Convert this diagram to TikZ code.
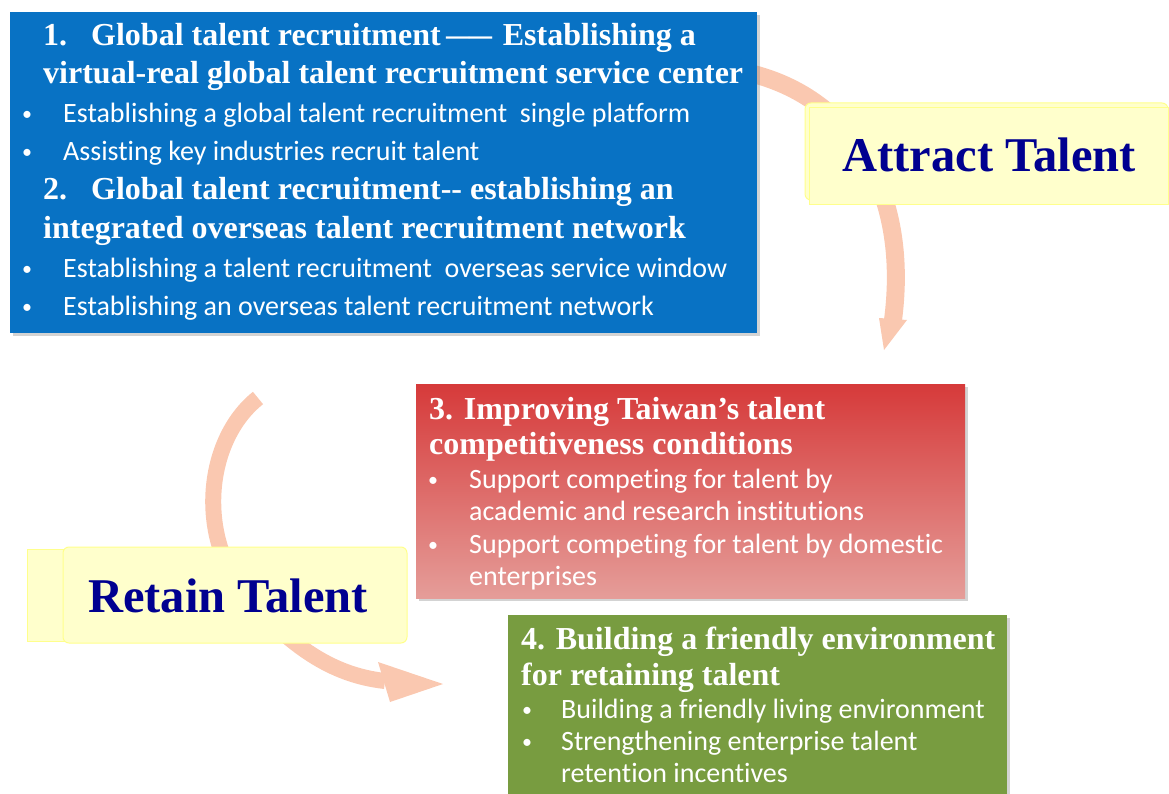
\documentclass[tikz,border=0pt]{standalone}
\usepackage{fontspec}
\newfontfamily\tnrfont{Liberation Serif}
\newfontfamily\calfont[Ligatures=CommonOff]{Carlito}
\usetikzlibrary{shadows}
\definecolor{boxblue}{RGB}{8,114,196}
\definecolor{boxgreen}{RGB}{120,156,64}
\definecolor{redtop}{RGB}{214,58,58}
\definecolor{redbot}{RGB}{229,157,153}
\definecolor{peach}{RGB}{250,200,176}
\definecolor{lightyellow}{RGB}{255,255,204}
\definecolor{yellowline}{RGB}{255,255,140}
\definecolor{navy}{RGB}{0,0,144}
\tikzset{
  ttl/.style={anchor=base west, inner sep=0pt, text=white, font=\tnrfont\bfseries\fontsize{32}{36}\selectfont},
  bul/.style={anchor=base west, inner sep=0pt, text=white, font=\calfont\fontsize{28}{32}\selectfont},
  bdot/.style={anchor=base, inner sep=0pt, text=white, font=\calfont\fontsize{20}{24}\selectfont},
  shad/.style={drop shadow={opacity=0.35, shadow xshift=3pt, shadow yshift=-3pt}},
  ybox/.style={fill=lightyellow, draw=yellowline, line width=1pt},
  bigword/.style={inner sep=0pt, text=navy, font=\tnrfont\bfseries\fontsize{48.5}{56}\selectfont},
  arc/.style={draw=peach, line width=18pt},
  arhead/.style={fill=peach}
}
\begin{document}
\begin{tikzpicture}[x=1pt,y=-1pt]
\useasboundingbox (0,0) rectangle (1169,794);
\clip (0,0) rectangle (1169,794);
% ---- curved arrows
\coordinate (a1s) at (745,72);
\coordinate (a1e) at (893,320);
\coordinate (a1t) at (884,350);
\draw[arc] (a1s) .. controls (850,95) and (910,190) .. (a1e);
\fill[arhead] (879,318) -- (907,320) -- (a1t) -- cycle;
\coordinate (a2s) at (258,398);
\coordinate (a2m) at (250,600);
\coordinate (a2e) at (385,681);
\coordinate (a2t) at (443,684);
\draw[arc, line width=16pt] (a2s) .. controls (205,440) and (195,540) .. (a2m)
   .. controls (290,644) and (330,675) .. (a2e);
\fill[arhead] (378,662) -- (a2t) -- (390,702) -- cycle;
% ---- blue box
\node[shad, fill=boxblue, anchor=north west, minimum width=747pt, minimum height=321pt, inner sep=0pt] (blue) at (10,12) {};
\node[ttl] (t1n) at (43,46) {1.};
\node[ttl] (t1) at (91,46) {Global talent recruitment\,\scalebox{0.72}[1]{——}\,\,Establishing a};
\node[ttl] (t2) at (43,84) {virtual-real global talent recruitment service center};
\node[bdot] (d1) at (27,121) {•};
\node[bul] (b1) at (63,123) {Establishing a global talent recruitment\ \ single platform};
\node[bdot] (d2) at (27,159) {•};
\node[bul] (b2) at (63,161) {Assisting key industries recruit talent};
\node[ttl] (t3n) at (43,200) {2.};
\node[ttl] (t3) at (91,200) {Global talent recruitment-{}- establishing an};
\node[ttl] (t4) at (43,239) {integrated overseas talent recruitment network};
\node[bdot] (d3) at (27,275) {•};
\node[bul] (b3) at (63,277) {Establishing a talent recruitment\ \ overseas service window};
\node[bdot] (d4) at (27,313) {•};
\node[bul] (b4) at (63,315) {Establishing an overseas talent recruitment network};
% ---- red box
\node[shad, top color=redtop, bottom color=redbot, anchor=north west, minimum width=549pt, minimum height=214pt, inner sep=0pt] (red) at (416,384) {};
\node[ttl] (r1) at (429,419) {3. Improving Taiwan’s talent};
\node[ttl] (r2) at (429,454) {competitiveness conditions};
\node[bdot] (rd1) at (433,486) {•};
\node[bul] (rb1) at (469,488) {Support competing for talent by};
\node[bul] (rb2) at (469,520) {academic and research institutions};
\node[bdot] (rd2) at (433,551) {•};
\node[bul] (rb3) at (469,553) {Support competing for talent by domestic};
\node[bul] (rb4) at (469,585) {enterprises};
% ---- green box
\node[shad, fill=boxgreen, anchor=north west, minimum width=499pt, minimum height=200pt, inner sep=0pt] (green) at (508,615) {};
\node[ttl] (g1) at (521,649) {4. Building a friendly environment};
\node[ttl] (g2) at (521,685) {for retaining talent};
\node[bdot] (gd1) at (527,716) {•};
\node[bul] (gb1) at (561,718) {Building a friendly living environment};
\node[bdot] (gd2) at (527,748) {•};
\node[bul] (gb2) at (561,750) {Strengthening enterprise talent};
\node[bul] (gb3) at (561,782) {retention incentives};
% ---- yellow labels
\draw[ybox, rounded corners=6pt] (805,103) rectangle (1168,200);
\draw[ybox] (809,108) rectangle (1168,205);
\node[bigword] (attract) at (989,155) {Attract Talent};
\draw[ybox] (27,549) rectangle (403,641);
\draw[ybox, rounded corners=6pt] (63,547) rectangle (407,643);
\node[bigword] (retain) at (228,596) {Retain Talent};
\end{tikzpicture}
\end{document}
